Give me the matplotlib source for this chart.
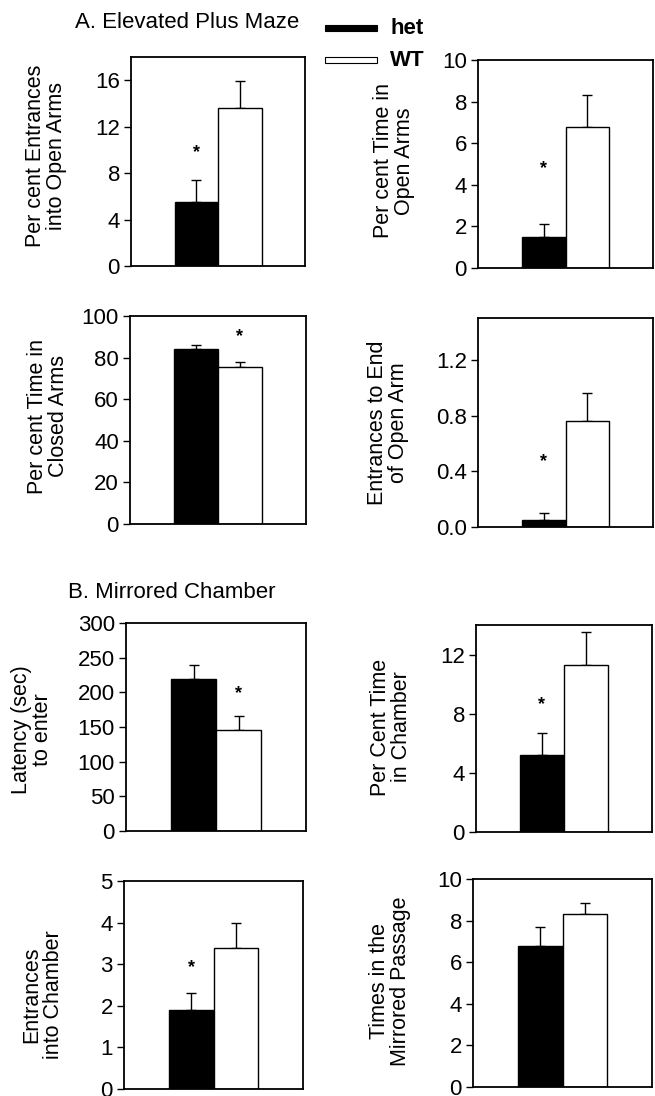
import matplotlib
matplotlib.use("Agg")
import matplotlib.pyplot as plt
from matplotlib.patches import Rectangle

plt.rcParams['font.family'] = ['Liberation Sans', 'DejaVu Sans']

# ---- data ----
groups = ["het", "WT"]
ylabels = [
    "Per cent Entrances\ninto Open Arms",
    "Per cent Time in\nOpen Arms",
    "Per cent Time in\nClosed Arms",
    "Entrances to End\nof Open Arm",
    "Latency (sec)\nto enter",
    "Per Cent Time\nin Chamber",
    "Entrances\ninto Chamber",
    "Times in the\nMirrored Passage",
]
het_mean = [5.5, 1.5, 84.0, 0.05, 219, 5.2, 1.9, 6.8]
het_sem = [1.9, 0.6, 2.0, 0.05, 20, 1.5, 0.4, 0.9]
wt_mean = [13.6, 6.8, 75.3, 0.76, 145, 11.3, 3.4, 8.3]
wt_sem = [2.3, 1.5, 2.7, 0.20, 21, 2.2, 0.6, 0.55]
ylims = [18, 10, 100, 1.5, 300, 14, 5, 10]
yticks = [
    [0, 4, 8, 12, 16],
    [0, 2, 4, 6, 8, 10],
    [0, 20, 40, 60, 80, 100],
    [0.0, 0.4, 0.8, 1.2],
    [0, 50, 100, 150, 200, 250, 300],
    [0, 4, 8, 12],
    [0, 1, 2, 3, 4, 5],
    [0, 2, 4, 6, 8, 10],
]
ytick_fmt = ["{:d}", "{:d}", "{:d}", "{:.1f}", "{:d}", "{:d}", "{:d}", "{:d}"]
star_bar = [0, 0, 1, 0, 1, 0, 0, None]
star_y = [9.8, 4.8, 90, 0.47, 198, 8.6, 2.93, None]

# ---- layout (pixel boxes: left, top, right, bottom) ----
W, H = 655, 1096
boxes = [
    (131, 57, 305, 266),
    (478, 60, 653, 268),
    (130, 316, 306, 524),
    (478, 318, 653, 527),
    (126, 623, 306, 831),
    (476, 625, 652, 832),
    (124, 881, 303, 1089),
    (473, 879, 652, 1087),
]
label_pos = [(46, 156), (394, 161), (48, 416), (388, 423),
             (32, 730), (391, 727), (43, 995), (390, 981)]

fig = plt.figure(figsize=(W / 100, H / 100), dpi=100)
FS_TICK = 16
FS_LAB = 15.5
FS_TITLE = 16

for i, (l, t, r, b) in enumerate(boxes):
    ax = fig.add_axes([l / W, 1 - b / H, (r - l) / W, (b - t) / H])
    x = [0, 1]
    ax.bar(x[0], het_mean[i], width=1.0, color="black", edgecolor="black",
           linewidth=1.0, zorder=2)
    ax.bar(x[1], wt_mean[i], width=1.0, color="white", edgecolor="black",
           linewidth=1.0, zorder=2)
    ax.errorbar(x[0], het_mean[i], yerr=[[0], [het_sem[i]]], fmt="none",
                ecolor="black", elinewidth=1.0, capsize=3.5, capthick=1.0, zorder=1)
    ax.errorbar(x[1], wt_mean[i], yerr=[[0], [wt_sem[i]]], fmt="none",
                ecolor="black", elinewidth=1.0, capsize=3.5, capthick=1.0, zorder=1)
    if star_bar[i] is not None:
        ax.text(x[star_bar[i]], star_y[i], "*", ha="center", va="center",
                fontsize=13, fontweight="bold")
    ax.set_xlim(-1.5, 2.5)
    ax.set_ylim(0, ylims[i])
    ax.set_xticks([])
    ax.set_yticks(yticks[i])
    ax.set_yticklabels([ytick_fmt[i].format(v) for v in yticks[i]], fontsize=FS_TICK)
    ax.tick_params(axis="y", direction="out", length=5, width=1.0, pad=3)
    for s in ax.spines.values():
        s.set_linewidth(1.3)
    lx, ly = label_pos[i]
    fig.text(lx / W, 1 - ly / H, ylabels[i], rotation=90, ha="center",
             va="center", multialignment="center", fontsize=FS_LAB, linespacing=1.05)

# section titles
fig.text(75 / W, 1 - 22 / H, "A. Elevated Plus Maze", ha="left", va="center",
         fontsize=FS_TITLE)
fig.text(68 / W, 1 - 593 / H, "B. Mirrored Chamber", ha="left", va="center",
         fontsize=FS_TITLE)

# legend
fig.patches.append(Rectangle((325 / W, 1 - 31 / H), 52 / W, 6 / H,
                             transform=fig.transFigure, facecolor="black",
                             edgecolor="black", linewidth=0.8))
fig.patches.append(Rectangle((325 / W, 1 - 63 / H), 52 / W, 6 / H,
                             transform=fig.transFigure, facecolor="white",
                             edgecolor="black", linewidth=0.8))
fig.text(390 / W, 1 - 28 / H, groups[0], ha="left", va="center",
         fontsize=16, fontweight="bold")
fig.text(390 / W, 1 - 60 / H, groups[1], ha="left", va="center",
         fontsize=16, fontweight="bold")

fig.savefig("out.png", dpi=100)
